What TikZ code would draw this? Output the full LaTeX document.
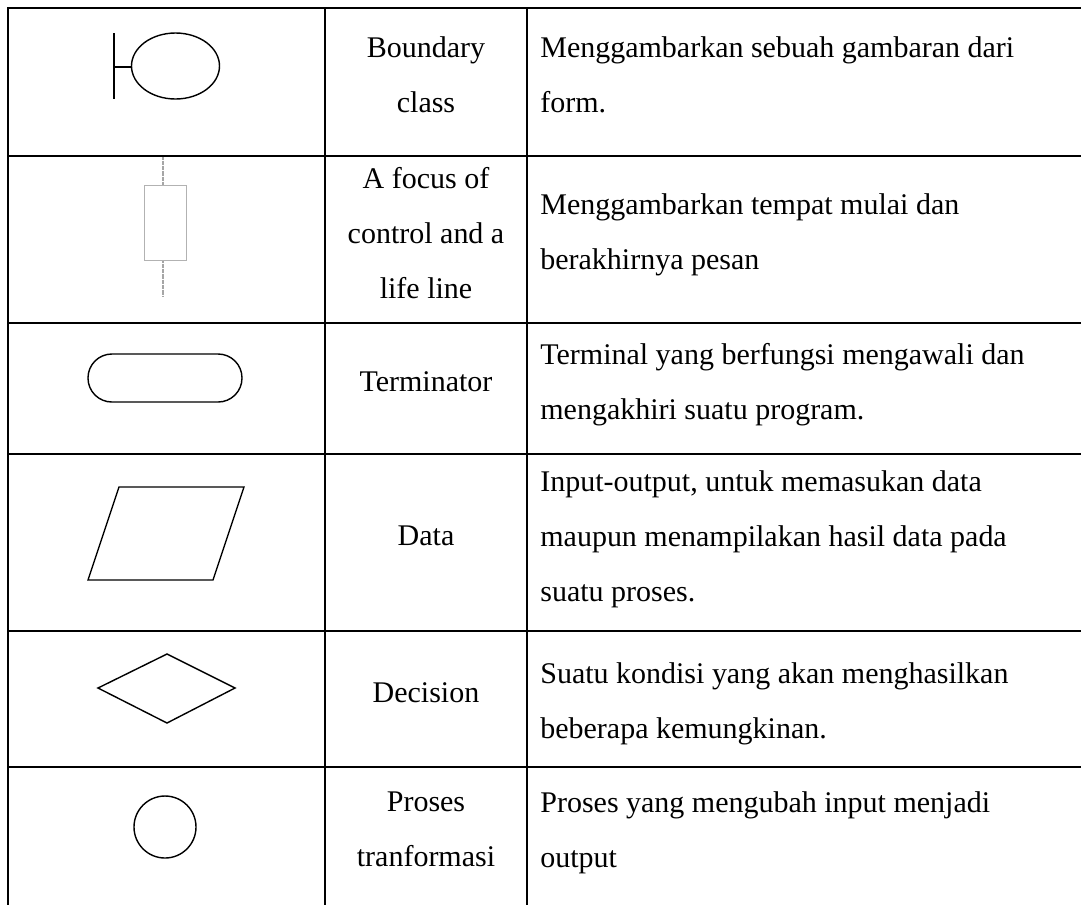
\documentclass[tikz,border=0pt]{standalone}
\usepackage{fontspec}
\setmainfont{Liberation Serif}
\usetikzlibrary{positioning}

\begin{document}
\begin{tikzpicture}[
	x=0.02cm, y=-0.02cm,
	rule/.style={line width=1.15pt, line cap=rect},
	sym/.style={line width=0.8pt},
	life/.style={gray!70, line width=1.3pt, dash pattern=on 0.4pt off 0.3pt},
	txt/.style={inner sep=0pt, font=\fontsize{17.07pt}{31.3pt}\selectfont,
		execute at begin node=\strut, execute at end node=\strut},
	symname/.style={txt, align=center},
	desc/.style={txt, align=left, anchor=west}]
\useasboundingbox (0,0) rectangle (1081,904);

% table rules
\foreach \y in {8,156,323,454,631,767}
	\draw[rule] (8,\y) -- (1081,\y);
\foreach \x in {8,325,527}
	\draw[rule] (\x,8) -- (\x,904);

% symbols
\draw[sym] (114,33) -- (114,99) (114,67) -- (131.5,67);
\draw[sym] (175.5,66) ellipse [x radius=44, y radius=33];

\draw[life] (163,157) -- (163,185) (163,260) -- (163,296);
\draw[gray!60, line width=0.5pt] (144,185) rectangle (186,260);

\draw[sym, rounded corners=13.6pt] (88,354) rectangle (242,402);
\draw[sym] (119,487) -- (244,487) -- (213,580) -- (88,580) -- cycle;
\draw[sym] (98,688) -- (167,654) -- (235,688) -- (167,723) -- cycle;
\draw[sym] (165,827) circle [radius=31];

% names
\node[symname] (nbnd) at (426,83) {Boundary\\class};
\node[symname] (nfoc) at (426,241) {A focus of\\control and a\\life line};
\node[symname] (nter) at (426,380) {Terminator};
\node[symname] (ndat) at (426,534) {Data};
\node[symname] (ndec) at (426,691) {Decision};
\node[symname] (npro) at (426,837) {Proses\\tranformasi};

% descriptions
\node[desc] (dbnd) at (540,83) {Menggambarkan sebuah gambaran dari\\form.};
\node[desc] (dfoc) at (540,239.5) {Menggambarkan tempat mulai dan\\berakhirnya pesan};
\node[desc] (dter) at (540,389.5) {Terminal yang berfungsi mengawali dan\\mengakhiri suatu program.};
\node[desc] (ddat) at (540,544) {Input-output, untuk memasukan data\\maupun menampilakan hasil data pada\\suatu proses.};
\node[desc] (ddec) at (540,709) {Suatu kondisi yang akan menghasilkan\\beberapa kemungkinan.};
\node[desc] (dpro) at (540,837.5) {Proses yang mengubah input menjadi\\output};
\end{tikzpicture}
\end{document}
